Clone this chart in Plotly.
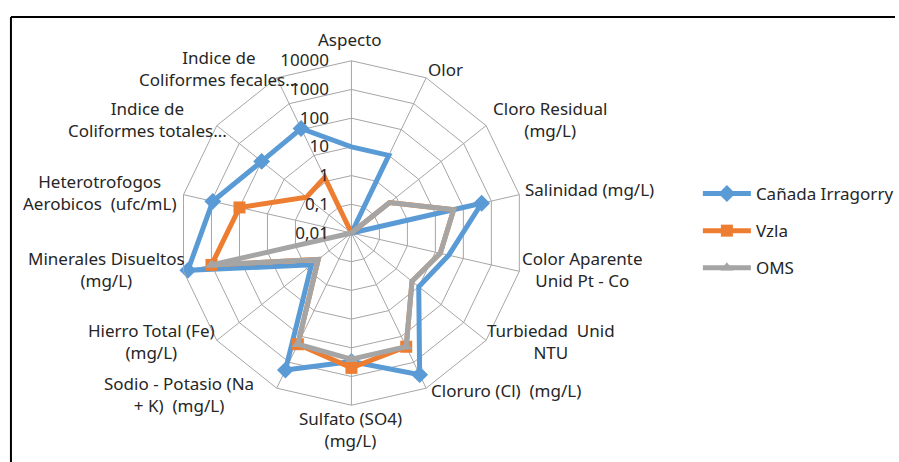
import plotly.graph_objects as go

categories = [
    "Aspecto",
    "Olor",
    "Cloro Residual<br>(mg/L)",
    "Salinidad (mg/L)",
    "Color Aparente<br>Unid Pt - Co",
    "Turbiedad  Unid<br>NTU",
    "Cloruro (Cl)  (mg/L)",
    "Sulfato (SO4)<br>(mg/L)",
    "Sodio - Potasio (Na<br>+ K)  (mg/L)",
    "Hierro Total (Fe)<br>(mg/L)",
    "Minerales Disueltos<br>(mg/L)",
    "Heterotrofogos<br>Aerobicos  (ufc/mL)",
    "Indice de<br>Coliformes totales...",
    "Indice de<br>Coliformes fecales...",
]

canada = [10, 10, 0.01, 450, 30, 10, 3000, 300, 2000, 0.6, 7000, 900, 100, 110]
vzla = [0.01, 0.01, 0.5, 45, 15, 5, 250, 500, 200, 0.3, 1000, 100, 1, 1.4]
oms = [0.01, 0.01, 0.5, 45, 15, 5, 250, 250, 200, 0.3, 1000, 0.01, 0.01, 0.01]

tick_vals = [0.01, 0.1, 1, 10, 100, 1000, 10000]
tick_text = ["0,01", "0,1", "1", "10", "100", "1000", "10000"]

# label centres (pixels) for the category labels, in category order
label_pos = [
    (352, 40), (447, 70), (552, 119), (592, 190), (585, 269), (553, 341),
    (508, 390), (352, 429), (180, 394), (152, 341), (107, 269), (100, 192),
    (148, 119), (220, 68),
]

series = [
    ("Cañada Irragorry", canada, "#5B9BD5", "diamond", 13),
    ("Vzla", vzla, "#ED7D31", "square", 12),
    ("OMS", oms, "#A5A5A5", "triangle-up", 11),
]

W, H = 899, 462
TXT = "#262626"

fig = go.Figure()
for name, vals, color, sym, size in series:
    fig.add_trace(go.Scatterpolar(
        r=vals + vals[:1],
        theta=categories + categories[:1],
        mode="lines+markers",
        name=name,
        legendgroup=name,
        line=dict(color=color, width=5),
        marker=dict(color=color, symbol=sym, size=size),
    ))

# polar box: centre (353,233), radius 173
dx0, dx1, dy0, dy1 = 180, 526, 60, 406

annotations = []
for lab, (px, py) in zip(categories, label_pos):
    annotations.append(dict(
        text=lab, x=px / W, y=1 - py / H, xref="paper", yref="paper",
        xanchor="center", yanchor="middle", align="center", showarrow=False,
        font=dict(size=17, color=TXT),
    ))

border = dict(color="black", width=2)
fig.update_layout(
    width=W, height=H,
    margin=dict(l=0, r=0, t=0, b=0),
    paper_bgcolor="white",
    font=dict(family="Noto Sans", size=17, color=TXT),
    polar=dict(
        domain=dict(x=[dx0 / W, dx1 / W], y=[1 - dy1 / H, 1 - dy0 / H]),
        gridshape="linear",
        bgcolor="white",
        angularaxis=dict(
            rotation=90, direction="clockwise",
            showline=True, linecolor="#a6a6a6", linewidth=1,
            gridcolor="#a6a6a6", gridwidth=1,
            showticklabels=False, ticks="",
        ),
        radialaxis=dict(
            type="log", range=[-2, 4], angle=90, tickangle=90,
            tickvals=tick_vals, ticktext=tick_text,
            showline=False, gridcolor="#a6a6a6", gridwidth=1,
            tickfont=dict(size=17, color=TXT),
            side="counterclockwise", ticks="outside", ticklen=16,
            tickcolor="rgba(0,0,0,0)",
        ),
    ),
    legend=dict(
        x=701 / W, y=1 - 176 / H, xanchor="left", yanchor="top",
        font=dict(size=17, color=TXT),
        tracegroupgap=12, itemwidth=48,
        bgcolor="rgba(0,0,0,0)",
    ),
    annotations=annotations,
    shapes=[
        dict(type="line", xref="paper", yref="paper",
             x0=11 / W, x1=1.0, y0=1 - 17 / H, y1=1 - 17 / H, line=border),
        dict(type="line", xref="paper", yref="paper",
             x0=11 / W, x1=11 / W, y0=1 - 17 / H, y1=0.0, line=border),
    ],
)

fig.write_html(
    "out.html",
    config={"displayModeBar": False},
    post_script="document.body.style.margin='0';document.body.style.overflow='hidden';",
)
